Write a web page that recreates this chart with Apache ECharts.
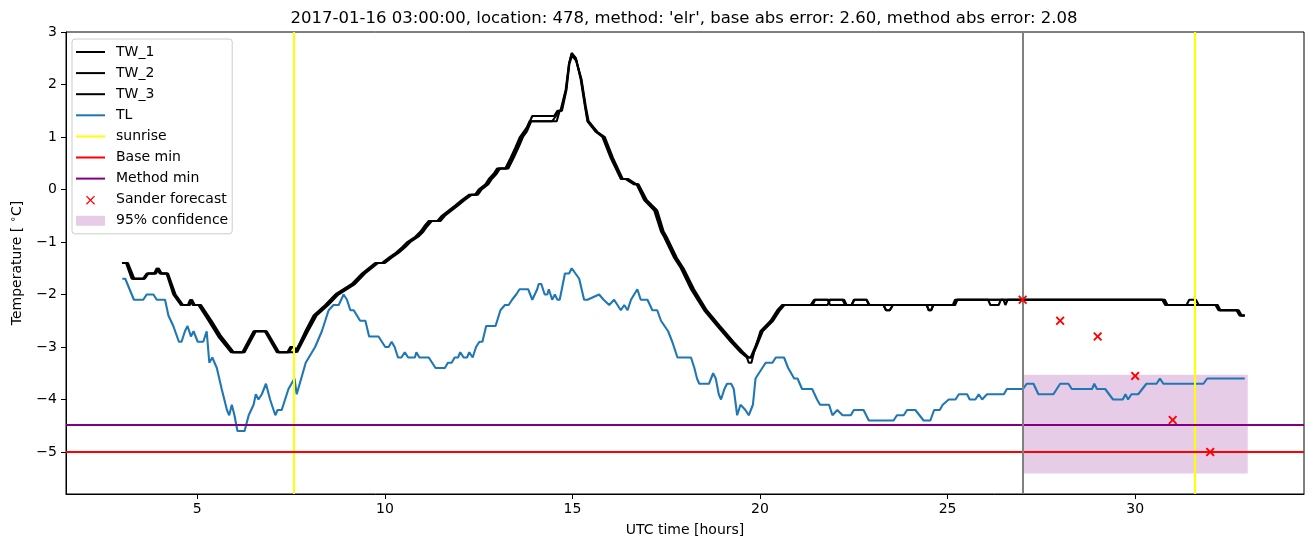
<!DOCTYPE html>
<html><head><meta charset="utf-8">
<script src="https://cdn.jsdelivr.net/npm/echarts@6/dist/echarts.min.js"></script>
<style>html,body{margin:0;padding:0;background:#fff}#c{width:1313px;height:547px}</style>
</head><body><div id="c"></div>
<script>
const titleText = "2017-01-16 03:00:00, location: 478, method: 'elr', base abs error: 2.60, method abs error: 2.08";
const xTicks = [5, 10, 15, 20, 25, 30];
const yTicks = [-5, -4, -3, -2, -1, 0, 1, 2, 3];

const tw1 = [[3.0,-1.4],[3.1,-1.4],[3.25,-1.7],[3.55,-1.7],[3.65,-1.6],[3.85,-1.6],[3.92,-1.5],[4.0,-1.6],[4.18,-1.6],[4.36,-2.0],[4.56,-2.2],[4.75,-2.2],[4.81,-2.1],[4.88,-2.2],[5.03,-2.2],[5.3,-2.5],[5.56,-2.8],[5.9,-3.1],[6.2,-3.1],[6.5,-2.7],[6.8,-2.7],[7.12,-3.1],[7.4,-3.1],[7.48,-3.0],[7.55,-3.0],[7.62,-3.1],[7.88,-2.7],[8.1,-2.4],[8.41,-2.2],[8.68,-2.0],[8.9,-1.9],[9.12,-1.8],[9.39,-1.6],[9.74,-1.4],[9.92,-1.4],[10.1,-1.3],[10.3,-1.2],[10.46,-1.1],[10.6,-1.0],[10.81,-0.9],[10.95,-0.8],[11.05,-0.7],[11.17,-0.6],[11.4,-0.6],[11.52,-0.5],[11.7,-0.4],[11.88,-0.3],[12.05,-0.2],[12.24,-0.1],[12.4,-0.1],[12.5,0.0],[12.68,0.1],[12.77,0.2],[12.9,0.3],[12.99,0.4],[13.21,0.4],[13.35,0.6],[13.48,0.8],[13.6,1.0],[13.7,1.1],[13.8,1.2],[13.93,1.4],[14.51,1.4],[14.6,1.5],[14.68,1.5],[14.82,1.9],[14.91,2.4],[14.98,2.6],[15.09,2.5],[15.22,2.1],[15.33,1.6],[15.4,1.3],[15.62,1.1],[15.8,1.0],[16.02,0.6],[16.29,0.2],[16.42,0.2],[16.64,0.1],[16.71,0.1],[16.91,-0.2],[17.18,-0.4],[17.36,-0.8],[17.44,-0.9],[17.71,-1.3],[17.89,-1.5],[18.16,-1.9],[18.51,-2.3],[18.86,-2.6],[19.22,-2.9],[19.48,-3.1],[19.65,-3.2],[19.7,-3.3],[19.77,-3.3],[19.84,-3.1],[20.01,-2.7],[20.28,-2.5],[20.46,-2.3],[20.59,-2.2],[21.35,-2.2],[21.44,-2.1],[21.8,-2.1],[21.87,-2.2],[22.44,-2.2],[22.52,-2.1],[22.84,-2.1],[22.92,-2.2],[23.29,-2.2],[23.36,-2.3],[23.46,-2.3],[23.54,-2.2],[24.44,-2.2],[24.5,-2.3],[24.56,-2.3],[24.62,-2.2],[25.14,-2.2],[25.2,-2.1],[30.75,-2.1],[30.82,-2.2],[32.17,-2.2],[32.24,-2.3],[32.72,-2.3],[32.8,-2.4],[32.92,-2.4]];

const tw2 = [[3.0,-1.4],[3.15,-1.4],[3.32,-1.7],[3.6,-1.7],[3.7,-1.6],[3.9,-1.6],[3.97,-1.5],[4.05,-1.6],[4.22,-1.6],[4.42,-2.0],[4.62,-2.2],[4.8,-2.2],[4.86,-2.1],[4.93,-2.2],[5.1,-2.2],[5.38,-2.5],[5.64,-2.8],[5.97,-3.1],[6.26,-3.1],[6.56,-2.7],[6.85,-2.7],[7.18,-3.1],[7.45,-3.1],[7.52,-3.0],[7.58,-3.0],[7.66,-3.1],[7.95,-2.7],[8.18,-2.4],[8.49,-2.2],[8.76,-2.0],[8.98,-1.9],[9.2,-1.8],[9.47,-1.6],[9.82,-1.4],[10.0,-1.4],[10.18,-1.3],[10.38,-1.2],[10.54,-1.1],[10.68,-1.0],[10.89,-0.9],[11.03,-0.8],[11.13,-0.7],[11.25,-0.6],[11.48,-0.6],[11.6,-0.5],[11.78,-0.4],[11.96,-0.3],[12.13,-0.2],[12.32,-0.1],[12.48,-0.1],[12.58,0.0],[12.76,0.1],[12.85,0.2],[12.98,0.3],[13.07,0.4],[13.29,0.4],[13.43,0.6],[13.56,0.8],[13.68,1.0],[13.78,1.1],[13.9,1.3],[14.58,1.3],[14.66,1.5],[14.72,1.5],[14.84,1.9],[14.92,2.4],[14.99,2.55],[15.1,2.45],[15.24,2.1],[15.35,1.6],[15.43,1.3],[15.66,1.1],[15.86,1.0],[16.08,0.6],[16.34,0.2],[16.48,0.2],[16.7,0.1],[16.76,0.1],[16.98,-0.2],[17.26,-0.4],[17.43,-0.8],[17.51,-0.9],[17.78,-1.3],[17.96,-1.5],[18.24,-1.9],[18.58,-2.3],[18.93,-2.6],[19.29,-2.9],[19.55,-3.1],[19.7,-3.2],[19.77,-3.2],[19.9,-3.0],[20.07,-2.7],[20.35,-2.5],[20.53,-2.3],[20.65,-2.2],[21.8,-2.2],[21.87,-2.1],[22.24,-2.1],[22.31,-2.2],[23.29,-2.2],[23.36,-2.3],[23.46,-2.3],[23.54,-2.2],[25.2,-2.2],[25.26,-2.1],[26.08,-2.1],[26.14,-2.2],[26.36,-2.2],[26.42,-2.1],[30.79,-2.1],[30.86,-2.2],[32.2,-2.2],[32.27,-2.3],[32.76,-2.3],[32.84,-2.4],[32.92,-2.4]];

const tw3 = [[3.0,-1.4],[3.12,-1.4],[3.28,-1.7],[3.58,-1.7],[3.68,-1.6],[3.87,-1.6],[3.94,-1.5],[4.02,-1.6],[4.2,-1.6],[4.4,-2.0],[4.6,-2.2],[4.78,-2.2],[4.84,-2.1],[4.9,-2.2],[5.06,-2.2],[5.34,-2.5],[5.6,-2.8],[5.94,-3.1],[6.23,-3.1],[6.53,-2.7],[6.83,-2.7],[7.15,-3.1],[7.6,-3.1],[7.92,-2.7],[8.14,-2.4],[8.45,-2.2],[8.72,-2.0],[8.94,-1.9],[9.16,-1.8],[9.43,-1.6],[9.78,-1.4],[9.96,-1.4],[10.14,-1.3],[10.34,-1.2],[10.5,-1.1],[10.64,-1.0],[10.85,-0.9],[10.99,-0.8],[11.09,-0.7],[11.21,-0.6],[11.44,-0.6],[11.56,-0.5],[11.74,-0.4],[11.92,-0.3],[12.09,-0.2],[12.28,-0.1],[12.44,-0.1],[12.54,0.0],[12.72,0.1],[12.81,0.2],[12.94,0.3],[13.03,0.4],[13.25,0.4],[13.39,0.6],[13.52,0.8],[13.64,1.0],[13.74,1.1],[13.86,1.3],[14.46,1.3],[14.56,1.4],[14.64,1.5],[14.7,1.5],[14.83,1.9],[14.91,2.4],[14.98,2.58],[15.09,2.5],[15.23,2.1],[15.34,1.6],[15.41,1.3],[15.64,1.1],[15.83,1.0],[16.05,0.6],[16.32,0.2],[16.45,0.2],[16.67,0.1],[16.74,0.1],[16.95,-0.2],[17.22,-0.4],[17.4,-0.8],[17.48,-0.9],[17.75,-1.3],[17.93,-1.5],[18.2,-1.9],[18.55,-2.3],[18.9,-2.6],[19.26,-2.9],[19.52,-3.1],[19.67,-3.2],[19.75,-3.2],[19.87,-3.0],[20.04,-2.7],[20.32,-2.5],[20.5,-2.3],[20.62,-2.2],[21.4,-2.2],[21.47,-2.1],[22.2,-2.1],[22.27,-2.2],[22.44,-2.2],[22.5,-2.1],[22.84,-2.1],[22.9,-2.2],[24.44,-2.2],[24.5,-2.3],[24.56,-2.3],[24.62,-2.2],[25.18,-2.2],[25.24,-2.1],[26.49,-2.1],[26.54,-2.2],[26.6,-2.1],[30.72,-2.1],[30.8,-2.2],[31.37,-2.2],[31.44,-2.1],[31.62,-2.1],[31.69,-2.2],[32.14,-2.2],[32.22,-2.3],[32.7,-2.3],[32.78,-2.4],[32.92,-2.4]];

const tl = [[3.0,-1.7],[3.08,-1.7],[3.31,-2.1],[3.56,-2.1],[3.65,-2.0],[3.83,-2.0],[3.92,-2.1],[4.14,-2.1],[4.23,-2.4],[4.36,-2.6],[4.51,-2.9],[4.58,-2.9],[4.67,-2.7],[4.74,-2.6],[4.83,-2.8],[4.9,-2.7],[5.01,-2.9],[5.16,-2.9],[5.25,-2.7],[5.32,-3.3],[5.4,-3.2],[5.52,-3.4],[5.65,-3.8],[5.79,-4.2],[5.85,-4.3],[5.92,-4.1],[5.99,-4.3],[6.07,-4.6],[6.26,-4.6],[6.37,-4.3],[6.5,-4.1],[6.56,-3.9],[6.63,-4.0],[6.72,-3.9],[6.83,-3.7],[6.94,-4.0],[7.08,-4.3],[7.14,-4.2],[7.25,-4.2],[7.43,-3.8],[7.59,-3.6],[7.65,-3.9],[7.89,-3.3],[8.14,-3.0],[8.32,-2.7],[8.5,-2.3],[8.63,-2.2],[8.77,-2.2],[8.9,-2.0],[8.99,-2.1],[9.08,-2.3],[9.17,-2.3],[9.34,-2.5],[9.48,-2.5],[9.58,-2.8],[9.83,-2.8],[10.01,-3.0],[10.1,-3.0],[10.18,-2.9],[10.26,-3.0],[10.35,-3.2],[10.44,-3.2],[10.53,-3.1],[10.62,-3.2],[10.8,-3.2],[10.84,-3.1],[10.92,-3.2],[11.17,-3.2],[11.35,-3.4],[11.6,-3.4],[11.68,-3.3],[11.78,-3.3],[11.86,-3.2],[11.95,-3.2],[12.01,-3.1],[12.1,-3.2],[12.19,-3.2],[12.25,-3.1],[12.34,-3.2],[12.43,-3.0],[12.52,-2.9],[12.6,-2.9],[12.7,-2.6],[12.95,-2.6],[13.08,-2.3],[13.2,-2.2],[13.3,-2.2],[13.39,-2.1],[13.5,-2.0],[13.59,-1.9],[13.82,-1.9],[13.93,-2.1],[14.06,-1.9],[14.1,-1.8],[14.17,-1.8],[14.26,-2.0],[14.33,-2.0],[14.37,-1.9],[14.46,-2.1],[14.53,-2.0],[14.6,-2.1],[14.66,-2.1],[14.8,-1.6],[14.91,-1.6],[14.98,-1.5],[15.08,-1.6],[15.18,-1.7],[15.31,-2.1],[15.4,-2.1],[15.71,-2.0],[15.83,-2.1],[15.98,-2.2],[16.11,-2.1],[16.29,-2.3],[16.38,-2.2],[16.47,-2.3],[16.56,-2.1],[16.73,-1.9],[16.82,-2.1],[17.0,-2.1],[17.13,-2.3],[17.26,-2.3],[17.36,-2.5],[17.55,-2.7],[17.66,-2.9],[17.8,-3.2],[18.16,-3.2],[18.25,-3.4],[18.32,-3.6],[18.38,-3.7],[18.64,-3.7],[18.75,-3.5],[18.82,-3.6],[18.9,-3.9],[18.96,-4.0],[19.05,-3.8],[19.12,-3.7],[19.23,-3.7],[19.3,-3.8],[19.39,-4.3],[19.48,-4.1],[19.61,-4.2],[19.7,-4.3],[19.75,-4.3],[19.81,-4.1],[19.88,-3.6],[19.97,-3.5],[20.15,-3.3],[20.33,-3.3],[20.42,-3.2],[20.64,-3.2],[20.75,-3.4],[20.91,-3.6],[21.0,-3.6],[21.12,-3.8],[21.39,-3.8],[21.52,-4.0],[21.6,-4.1],[21.84,-4.1],[21.93,-4.3],[22.06,-4.2],[22.2,-4.3],[22.42,-4.3],[22.5,-4.2],[22.76,-4.2],[22.9,-4.4],[23.56,-4.4],[23.65,-4.3],[23.83,-4.3],[23.92,-4.2],[24.14,-4.2],[24.25,-4.3],[24.36,-4.4],[24.54,-4.4],[24.64,-4.2],[24.79,-4.2],[24.87,-4.1],[25.03,-4.0],[25.21,-4.0],[25.3,-3.9],[25.52,-3.9],[25.59,-4.0],[25.74,-4.0],[25.83,-3.9],[25.92,-4.0],[26.05,-3.9],[26.5,-3.9],[26.58,-3.8],[27.01,-3.8],[27.11,-3.7],[27.29,-3.7],[27.42,-3.9],[27.82,-3.9],[28.0,-3.7],[28.22,-3.7],[28.31,-3.8],[28.85,-3.8],[28.91,-3.7],[28.98,-3.8],[29.2,-3.8],[29.41,-4.0],[29.67,-4.0],[29.74,-3.9],[29.81,-4.0],[29.9,-3.9],[30.08,-3.9],[30.19,-3.8],[30.3,-3.7],[30.57,-3.7],[30.66,-3.6],[30.75,-3.7],[31.82,-3.7],[31.92,-3.6],[32.92,-3.6]];

const sunriseHours = [7.56, 31.59];
const forecastStartHour = [27];
const baseMinValue = [-5.0];
const methodMinValue = [-4.48];
const sanderHours = [27, 28, 29, 30, 31, 32];
const sanderValues = [-2.1, -2.5, -2.8, -3.55, -4.39, -5.0];
const confidenceHours = [27, 33];
const confidenceBounds = [-5.41, -3.53];

const FONT = 'DejaVu Sans';
const lineIcon = 'path://M0,0L0,0M29,14L29,14M0,6H29V8H0Z';
const patchIcon = 'path://M0,0L0,0M29,14L29,14M0,2H29V12H0Z';
const xIcon = 'path://M0,0L0,0M29,14L29,14M10,3.9L10.9,3L14.5,6.6L18.1,3L19,3.9L15.4,7.5L19,11.1L18.1,12L14.5,8.4L10.9,12L10,11.1L13.6,7.5Z';
const xSymbol = 'path://M0,1.5L1.5,0L5,3.5L8.5,0L10,1.5L6.5,5L10,8.5L8.5,10L5,6.5L1.5,10L0,8.5L3.5,5Z';
const minus = v => (v < 0 ? '\u2212' + Math.abs(v) : String(v));

function lineSeries(name, data, color) {
  return { name, type: 'line', data, color, showSymbol: false, symbol: 'none', z: 2,
    lineStyle: { color, width: 2.1 }, animation: false, silent: true };
}
function vLines(name, xs, color) {
  return { name, type: 'line', data: [], color, animation: false, silent: true,
    markLine: { silent: true, symbol: ['none', 'none'], label: { show: false }, animation: false,
      lineStyle: { color, width: 2, type: 'solid' }, emphasis: { disabled: true },
      data: xs.map(x => ({ xAxis: x })) } };
}
function hLines(name, ys, color) {
  return { name, type: 'line', data: [], color, animation: false, silent: true,
    markLine: { silent: true, symbol: ['none', 'none'], label: { show: false }, animation: false,
      lineStyle: { color, width: 2, type: 'solid' }, emphasis: { disabled: true },
      data: ys.map(y => ({ yAxis: y })) } };
}

const chart = echarts.init(document.getElementById('c'), null, { renderer: 'canvas' });
chart.setOption({
  animation: false,
  backgroundColor: '#fff',
  graphic: [{ type: 'text', x: 684, y: 10, silent: true,
    style: { text: titleText, fill: '#000', font: '16.5px "DejaVu Sans"', textAlign: 'center', textVerticalAlign: 'top' } }],
  grid: { left: 64, right: 9, top: 32, bottom: 53, show: true, borderColor: '#000', borderWidth: 1, backgroundColor: 'transparent' },
  legend: {
    orient: 'vertical', left: 72, top: 39, padding: [6, 4, 6, 4], itemWidth: 29, itemHeight: 14, itemGap: 7.1,
    selectedMode: false, backgroundColor: 'rgba(255,255,255,0.8)', borderColor: '#cccccc', borderWidth: 1, borderRadius: 3,
    itemStyle: { borderWidth: 0 },
    textStyle: { fontFamily: FONT, fontSize: 14, color: '#000', lineHeight: 14, padding: [0, 0, 0, 6] },
    data: [
      { name: 'TW_1', icon: lineIcon }, { name: 'TW_2', icon: lineIcon }, { name: 'TW_3', icon: lineIcon },
      { name: 'TL', icon: lineIcon }, { name: 'sunrise', icon: lineIcon }, { name: 'Base min', icon: lineIcon },
      { name: 'Method min', icon: lineIcon }, { name: 'Sander forecast', icon: xIcon }, { name: '95% confidence', icon: patchIcon }
    ]
  },
  xAxis: {
    type: 'value', min: 1.5, max: 34.5,
    axisLine: { show: true, onZero: false, lineStyle: { color: '#000', width: 1 } },
    axisTick: { show: true, customValues: xTicks, length: 5, lineStyle: { color: '#000', width: 1 } },
    axisLabel: { customValues: xTicks, margin: 8, color: '#000', fontFamily: FONT, fontSize: 14, formatter: minus },
    splitLine: { show: false },
    name: 'UTC time [hours]', nameLocation: 'middle', nameGap: 29,
    nameTextStyle: { fontFamily: FONT, fontSize: 14, color: '#000' }
  },
  yAxis: {
    type: 'value', min: -5.8, max: 3.0,
    axisLine: { show: true, onZero: false, lineStyle: { color: '#000', width: 1 } },
    axisTick: { show: true, customValues: yTicks, length: 5, lineStyle: { color: '#000', width: 1 } },
    axisLabel: { customValues: yTicks, margin: 9, color: '#000', fontFamily: FONT, fontSize: 14, formatter: minus },
    splitLine: { show: false },
    name: '{t|Temperature [ }{s|∘}{t|C]}', nameLocation: 'middle', nameGap: 40,
    nameTextStyle: { fontFamily: FONT, fontSize: 14, color: '#000',
      rich: { t: { fontFamily: FONT, fontSize: 14, color: '#000' },
              s: { fontFamily: FONT, fontSize: 10, color: '#000', padding: [0, 0, 8, 0] } } }
  },
  series: [
    { name: '95% confidence', type: 'line', data: [], color: 'rgba(128,0,128,0.2)', animation: false, silent: true,
      markArea: { silent: true, itemStyle: { color: 'rgba(128,0,128,0.2)' }, emphasis: { disabled: true },
        data: [[{ xAxis: confidenceHours[0], yAxis: confidenceBounds[0] }, { xAxis: confidenceHours[1], yAxis: confidenceBounds[1] }]] } },
    lineSeries('TW_1', tw1, '#000000'),
    lineSeries('TW_2', tw2, '#000000'),
    lineSeries('TW_3', tw3, '#000000'),
    lineSeries('TL', tl, '#1f77b4'),
    vLines('sunrise', sunriseHours, '#ffff00'),
    hLines('Base min', baseMinValue, '#ff0000'),
    hLines('Method min', methodMinValue, '#800080'),
    vLines('forecast start', forecastStartHour, '#808080'),
    { name: 'Sander forecast', type: 'scatter', data: sanderHours.map((h, i) => [h, sanderValues[i]]),
      color: '#ff0000', symbol: xSymbol, symbolSize: 9, z: 6, animation: false, silent: true,
      itemStyle: { color: '#ff0000', opacity: 1 } }
  ]
});
</script></body></html>
